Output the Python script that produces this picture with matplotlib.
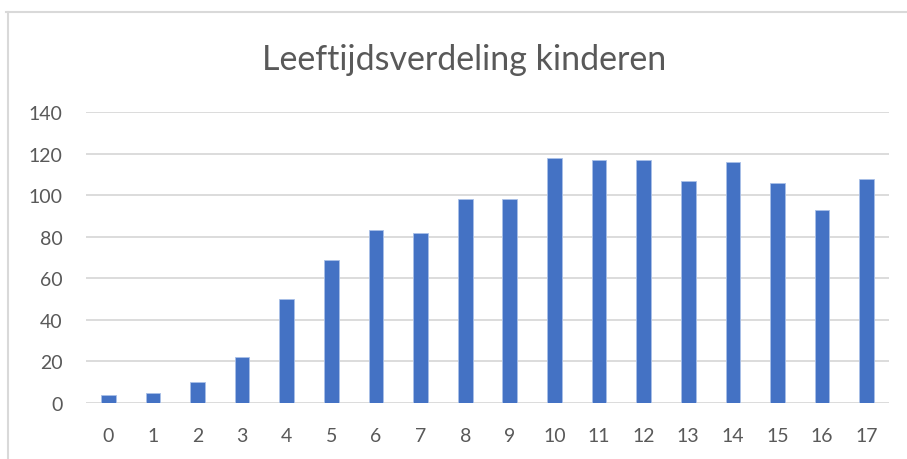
import numpy as np
import matplotlib.pyplot as plt
from matplotlib.lines import Line2D

# leeftijd (jaren) en aantal kinderen
leeftijd = list(range(18))
aantal = [4, 5, 10, 22, 50, 69, 83, 82, 98, 98, 118, 117, 117, 107, 116, 106, 93, 108]
yticks = [0, 20, 40, 60, 80, 100, 120, 140]

plt.rcParams['font.family'] = ['Lato', 'DejaVu Sans']
grijs = '#595959'

fig = plt.figure(figsize=(9.07, 4.6), dpi=100)
ax = fig.add_axes([86/907, 1-404/460, (889-86)/907, (404-113)/460])

ax.bar(leeftijd, aantal, width=0.33, color='#4472C4', edgecolor='#a9c0e8', linewidth=0.6, zorder=3)

ax.set_xlim(-0.5, 17.5)
ax.set_ylim(0, 140)
ax.set_yticks(yticks)
ax.set_xticks(leeftijd)
ax.set_xticklabels([str(a) for a in leeftijd])
ax.grid(axis='y', color='#d9d9d9', linewidth=1.3, zorder=0)
for s in ax.spines.values():
    s.set_visible(False)
ax.tick_params(axis='both', length=0, labelsize=14, colors=grijs)
ax.tick_params(axis='y', pad=17)
ax.tick_params(axis='x', pad=17)

fig.text(464/907, 1-60/460, 'Leeftijdsverdeling kinderen', ha='center', va='center',
         fontsize=24.5, color=grijs)

# kader om de grafiek
fig.add_artist(Line2D([6/907, 1], [1-13/460, 1-13/460], color='#d9d9d9', linewidth=1.5, transform=fig.transFigure))
fig.add_artist(Line2D([8/907, 8/907], [1-13/460, 0], color='#d9d9d9', linewidth=1.5, transform=fig.transFigure))

fig.savefig('out.png', dpi=100, facecolor='white')
